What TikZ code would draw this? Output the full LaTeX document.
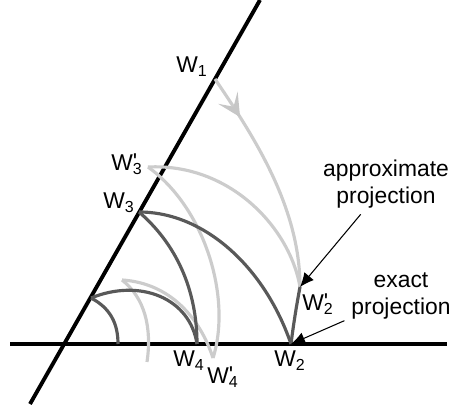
\documentclass[tikz,border=0pt]{standalone}
\usepackage{fontspec}
\setmainfont{Liberation Sans}
\usetikzlibrary{arrows.meta,decorations.markings}
\tikzset{
    axis/.style={line width=2.2pt},
    light/.style={gray!40,line width=1.8pt},
    dark/.style={black!65,line width=1.8pt},
    lbl/.style={font=\fontsize{13}{15}\selectfont,inner sep=1pt},
    txt/.style={font=\fontsize{13}{15}\selectfont,align=center,inner sep=2pt},
    pointer/.style={-{Latex[length=8pt,width=7pt]},line width=0.6pt},
    flow/.style={postaction={decorate},decoration={markings,
        mark=at position 0.2 with {\arrow{Stealth[length=13pt,width=13pt,inset=6pt,gray!45]}}}}
}
\newcommand{\Wsub}[1]{W\textsubscript{#1}}
\newcommand{\Wpr}[1]{W\rlap{\raisebox{0.05em}{\textquotesingle}}\textsubscript{#1}}

\begin{document}
\begin{tikzpicture}[x=0.02cm,y=0.02cm]
    \useasboundingbox (0,0) rectangle (452,408);
    \coordinate (top) at (260,408);
    \coordinate (bot) at (30,4);
    \coordinate (lft) at (10,64);
    \coordinate (rgt) at (447,64);
    \coordinate (W1) at (215,329);
    \coordinate (W3p) at (148,241);
    \coordinate (W3) at (139,196);
    \coordinate (P5) at (91,110);
    \coordinate (Q5) at (122,128);
    \coordinate (W4) at (197,64);
    \coordinate (W4p) at (213,50);
    \coordinate (E5) at (118,64);
    \coordinate (F5) at (147,46);
    \coordinate (W2) at (291,64);
    \coordinate (W2p) at (300,121);

    \draw[axis] (bot)--(top);
    \draw[axis] (lft)--(rgt);

    \draw[light,flow] (W1) .. controls (255,270) and (300,200) .. (W2p);
    \draw[light] (W3p) .. controls (230,245) and (290,180) .. (W2p);
    \draw[light] (W3p) .. controls (205,200) and (232,110) .. (W4p);
    \draw[light] (Q5) .. controls (170,125) and (200,90) .. (W4p);
    \draw[light] (Q5) .. controls (145,110) and (152,80) .. (F5);

    \draw[dark] (W3) .. controls (205,196) and (265,140) .. (W2);
    \draw[dark] (W3) .. controls (175,165) and (197,120) .. (W4);
    \draw[dark] (P5) .. controls (140,130) and (190,110) .. (W4);
    \draw[dark] (P5) .. controls (110,100) and (118,85) .. (E5);
    \draw[dark] (W2p) .. controls (296,100) and (293,80) .. (W2);

    \node[lbl] (lW1) at (192,341) {\Wsub{1}};
    \node[lbl] (lW3p) at (127,244) {\Wpr{3}};
    \node[lbl] (lW3) at (119,205) {\Wsub{3}};
    \node[lbl] (lW4) at (189,47) {\Wsub{4}};
    \node[lbl] (lW4p) at (223,31) {\Wpr{4}};
    \node[lbl] (lW2) at (290,47) {\Wsub{2}};
    \node[lbl] (lW2p) at (318,104) {\Wpr{2}};

    \node[txt] (approx) at (386,224) {approximate\\projection};
    \node[txt] (exact) at (401,112) {exact\\projection};
    \draw[pointer,shorten <=2pt] (approx) -- (W2p);
    \draw[pointer,shorten <=2pt] (exact) -- (W2);
\end{tikzpicture}
\end{document}
